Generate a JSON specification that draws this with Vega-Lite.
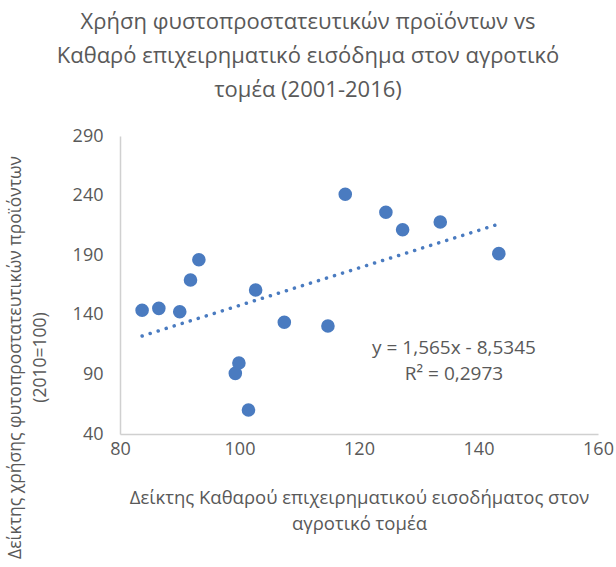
{
  "$schema": "https://vega.github.io/schema/vega-lite/v6.json",
  "width": 478,
  "height": 298,
  "autosize": {"type": "none"},
  "padding": {"left": 120, "top": 136, "right": 18, "bottom": 133},
  "background": "white",
  "config": {
    "font": "Open Sans",
    "view": {"stroke": null}
  },
  "title": {
    "text": ["Χρήση φυστοπροστατευτικών προϊόντων vs", "Καθαρό επιχειρηματικό εισόδημα στον αγροτικό", "τομέα (2001-2016)"],
    "fontSize": 22,
    "fontWeight": "normal",
    "color": "#595959",
    "font": "Open Sans",
    "anchor": "middle",
    "dx": -51,
    "lineHeight": 34,
    "offset": 25
  },
  "datasets": {
    "points": [
      {"x": 83.7, "y": 143.8},
      {"x": 86.5, "y": 145.4},
      {"x": 90.0, "y": 142.6},
      {"x": 91.8, "y": 169.2},
      {"x": 93.2, "y": 186.2},
      {"x": 99.3, "y": 90.9},
      {"x": 99.9, "y": 99.6},
      {"x": 101.5, "y": 60.1},
      {"x": 102.7, "y": 160.8},
      {"x": 107.5, "y": 133.7},
      {"x": 114.8, "y": 130.6},
      {"x": 117.7, "y": 241.1},
      {"x": 124.5, "y": 226.0},
      {"x": 127.3, "y": 211.4},
      {"x": 133.6, "y": 217.9},
      {"x": 143.4, "y": 191.3}
    ],
    "eq": [
      {"x": 135.9, "y": 112.1, "label": "y = 1,565x - 8,5345\nR² = 0,2973"}
    ]
  },
  "encoding": {
    "x": {
      "field": "x",
      "type": "quantitative",
      "scale": {"domain": [80, 160], "nice": false, "zero": false},
      "axis": {
        "values": [80, 100, 120, 140, 160],
        "grid": false,
        "ticks": false,
        "labelFontSize": 18,
        "labelColor": "#595959",
        "labelPadding": 6,
        "labelFlush": false,
        "domainColor": "#d0d0d0",
        "domainWidth": 1.5,
        "title": ["Δείκτης Καθαρού επιχειρηματικού εισοδήματος στον", "αγροτικό τομέα"],
        "titleFontSize": 18.5,
        "titleFontWeight": "normal",
        "titleColor": "#595959",
        "titleLineHeight": 26,
        "titleBaseline": "middle",
        "titleAlign": "center",
        "titleX": 239,
        "titleY": 63
      }
    },
    "y": {
      "field": "y",
      "type": "quantitative",
      "scale": {"domain": [40, 290], "nice": false, "zero": false},
      "axis": {
        "values": [40, 90, 140, 190, 240, 290],
        "grid": false,
        "ticks": false,
        "labelFontSize": 18,
        "labelColor": "#595959",
        "labelPadding": 17,
        "labelFlush": false,
        "domainColor": "#d0d0d0",
        "domainWidth": 1.5,
        "title": ["Δείκτης χρήσης φυτοπροστατευτικών προϊόντων", "(2010=100)"],
        "titleFontSize": 17.5,
        "titleFontWeight": "normal",
        "titleColor": "#595959",
        "titleLineHeight": 25,
        "titleAngle": -90,
        "titleBaseline": "middle",
        "titleAlign": "center",
        "titleX": -105,
        "titleY": 221
      }
    }
  },
  "layer": [
    {
      "data": {"name": "points"},
      "transform": [{"regression": "y", "on": "x", "method": "linear"}],
      "mark": {"type": "line", "color": "#4a7bc0", "strokeWidth": 3.5, "strokeDash": [0.1, 8.3], "strokeCap": "round"}
    },
    {
      "data": {"name": "points"},
      "mark": {"type": "circle", "size": 185, "opacity": 1, "color": "#4a7bc0"}
    },
    {
      "data": {"name": "eq"},
      "mark": {"type": "text", "fontSize": 19, "color": "#595959", "lineBreak": "\n", "lineHeight": 26, "align": "center", "baseline": "middle"},
      "encoding": {"text": {"field": "label"}}
    }
  ]
}
